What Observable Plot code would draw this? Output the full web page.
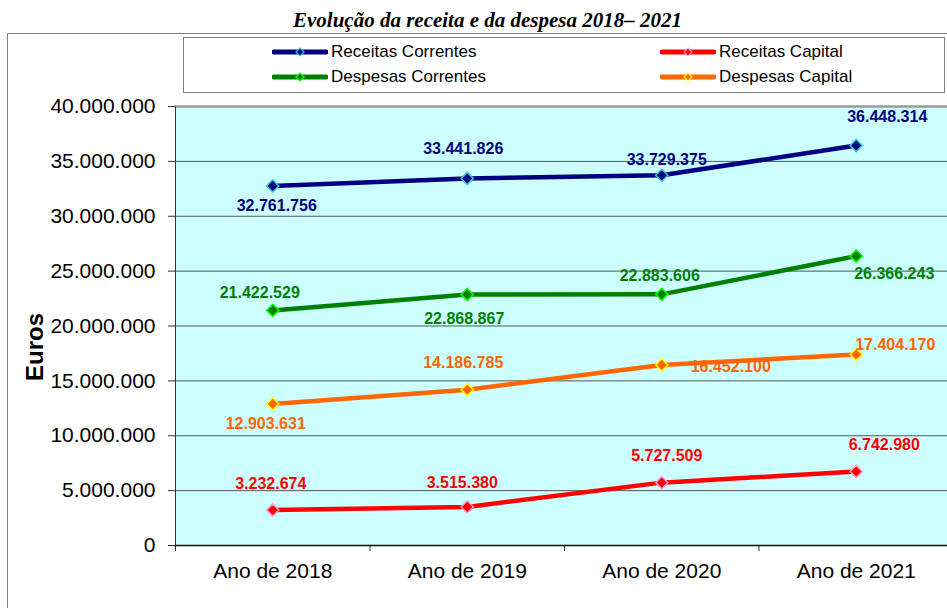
<!DOCTYPE html>
<html>
<head>
<meta charset="utf-8">
<script src="https://cdn.jsdelivr.net/npm/d3@7"></script>
<script src="https://cdn.jsdelivr.net/npm/@observablehq/plot@0.6"></script>
<style>
  html, body { margin: 0; padding: 0; background: white; }
  body { position: relative; width: 947px; height: 608px; overflow: hidden; font-family: "Liberation Sans", Arial, sans-serif; }
  #chart { position: absolute; left: 0; top: 0; width: 953px; }
  #chart svg { background: transparent; max-width: none !important; }
  .abs { position: absolute; }
  #outer { left: 7px; top: 33px; width: 1200px; height: 1200px; border: 1px solid #808080; }
  #title { left: 0; width: 975px; top: 7px; text-align: center; font-family: "Liberation Serif", "Times New Roman", serif; font-style: italic; font-weight: bold; font-size: 21px; line-height: 26px; }
  #legend { left: 183px; top: 37px; width: 760px; height: 54px; border: 1px solid #808080; background: white; }
  .item { position: absolute; height: 20px; display: flex; align-items: center; font-size: 17px; }
  .item svg { margin-right: 3px; }
  #ylabel { left: 35px; top: 347px; transform: translate(-50%, -50%) rotate(-90deg); font-weight: bold; font-size: 24px; white-space: nowrap; }
</style>
</head>
<body>
<div id="outer" class="abs"></div>
<div id="chart"></div>
<div id="title" class="abs">Evolução da receita e da despesa 2018– 2021</div>
<div id="legend" class="abs"></div>
<div id="ylabel" class="abs">Euros</div>
<script>
// ---- data ----
const categories = ["Ano de 2018", "Ano de 2019", "Ano de 2020", "Ano de 2021"];
const receitasCorrentes = [32761756, 33441826, 33729375, 36448314];
const receitasCapital   = [3232674, 3515380, 5727509, 6742980];
const despesasCorrentes = [21422529, 22868867, 22883606, 26366243];
const despesasCapital   = [12903631, 14186785, 16452100, 17404170];
const seriesNames = ["Receitas Correntes", "Receitas Capital", "Despesas Correntes", "Despesas Capital"];
const yTicks = [0, 5000000, 10000000, 15000000, 20000000, 25000000, 30000000, 35000000, 40000000];

// ---- styling ----
const seriesColors  = ["#000080", "#ff0000", "#008000", "#ff6600"];
const markerStrokes = ["#33cccc", "#ff99cc", "#00ff00", "#ffff00"];
// label offsets (dx, dy) in pixels, per series per year
const labelOffsets = [
  [[4, 20], [-4, -30], [5, -15], [31, -29]],
  [[-2, -26], [-5, -24], [5, -27], [28, -27]],
  [[-13, -18], [-3, 24], [-2, -18], [38, 18]],
  [[-7, 20], [-4, -27], [69, 2], [39, -10]]
];

const seriesValues = [receitasCorrentes, receitasCapital, despesasCorrentes, despesasCapital];
const rows = seriesValues.flatMap((vals, s) =>
  vals.map((v, i) => ({series: seriesNames[s], s, i, x: i + 0.5, value: v})));

const ptFormat = d3.formatLocale({decimal: ",", thousands: ".", grouping: [3], currency: ["", ""]}).format(",d");

const gridTicks = yTicks.filter(t => t > 0 && t < 40000000);
const topTick = [yTicks[yTicks.length - 1]];

const labelMarks = rows.map(d => Plot.text([d], {
  x: "x", y: "value", text: r => ptFormat(r.value),
  dx: labelOffsets[d.s][d.i][0], dy: labelOffsets[d.s][d.i][1],
  fill: seriesColors[d.s], fontWeight: "bold", fontSize: 16,
  fontFamily: "Liberation Sans, Arial, sans-serif"
}));

const plot = Plot.plot({
  width: 953, height: 608,
  marginTop: 106, marginBottom: 63, marginLeft: 175, marginRight: 0,
  style: {background: "transparent", fontFamily: "Liberation Sans, Arial, sans-serif", color: "black", maxWidth: "none"},
  x: {type: "linear", domain: [0, categories.length]},
  y: {domain: [0, 40000000]},
  marks: [
    Plot.frame({fill: "#ccffff", stroke: null}),
    Plot.ruleY(gridTicks, {stroke: "#555555", strokeWidth: 1}),
    Plot.ruleY(topTick, {stroke: "#9a9a9a", strokeWidth: 2.5}),
    Plot.axisY(yTicks, {tickSize: 7, tickPadding: 13, fontSize: 21, tickFormat: ptFormat, stroke: "#333", label: null}),
    Plot.axisX(d3.range(categories.length + 1), {tickSize: 6, tickFormat: () => "", stroke: "#333", label: null}),
    Plot.axisX(categories.map((c, i) => i + 0.5), {tickSize: 0, tickPadding: 18, fontSize: 21, tickFormat: v => categories[Math.round(v - 0.5)], label: null}),
    Plot.frame({anchor: "left", stroke: "#333"}),
    Plot.frame({anchor: "bottom", stroke: "#111", strokeWidth: 1.5}),
    Plot.line(rows, {x: "x", y: "value", z: "series", stroke: d => seriesColors[d.s], strokeWidth: 4.5}),
    Plot.dot(rows, {x: "x", y: "value", symbol: "diamond2", r: 5.5, fill: d => seriesColors[d.s], stroke: d => markerStrokes[d.s], strokeWidth: 1.5}),
    ...labelMarks
  ]
});
document.getElementById("chart").append(plot);

// ---- legend ----
const legend = document.getElementById("legend");
const legendPos = [[88, 4], [476, 4], [88, 29], [476, 29]];
seriesNames.forEach((name, s) => {
  const item = document.createElement("div");
  item.className = "item";
  item.style.left = legendPos[s][0] + "px";
  item.style.top = legendPos[s][1] + "px";
  item.innerHTML = `<svg width="56" height="12"><line x1="2" y1="6" x2="54" y2="6" stroke="${seriesColors[s]}" stroke-width="5" stroke-linecap="round"/><path d="M28 2 L32 6 L28 10 L24 6 Z" fill="${seriesColors[s]}" stroke="${markerStrokes[s]}" stroke-width="1.2"/></svg><span>${name}</span>`;
  legend.append(item);
});
</script>
</body>
</html>
